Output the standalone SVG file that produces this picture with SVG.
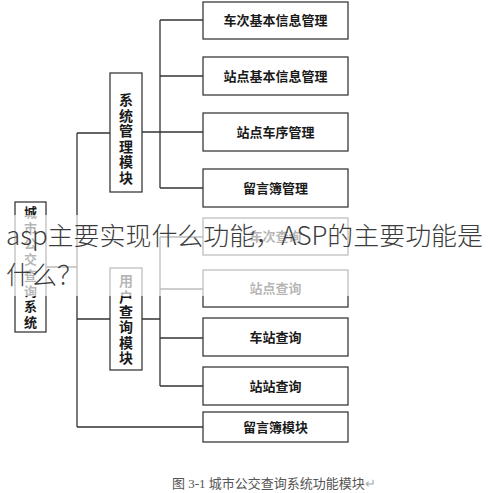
<svg xmlns="http://www.w3.org/2000/svg" width="490" height="493" viewBox="0 0 490 493">
<style>
.box{fill:#fff;stroke:#3a3a3a;stroke-width:1.3}
.lbl{font-family:"Noto Sans CJK SC","Noto Sans",sans-serif;font-size:13px;font-weight:bold;fill:#1a1a1a;text-anchor:middle}
.vt{font-family:"Noto Sans CJK SC","Noto Sans",sans-serif;font-size:14px;font-weight:bold;fill:#1a1a1a;text-anchor:middle}
.con path{fill:none;stroke:#333;stroke-width:1.3}
.ov{font-family:"Noto Sans CJK SC","Noto Sans",sans-serif;font-size:25.5px;font-weight:300;fill:#3c3c3c}
.cap{font-family:"Liberation Serif","Noto Sans CJK SC",serif;font-size:13px;fill:#555}
</style>
<rect width="490" height="493" fill="#fff"/>
<g class="con">
<path d="M46,267H77M77,133V427M77,133H110M77,319H110M77,427H203"/>
<path d="M142,132H160M160,20V188M160,20H203M160,76H203M160,132H203M160,188H203"/>
<path d="M142,319H160M160,237V386M160,237H203M160,289H203M160,338H203M160,386H203"/>
</g>
<g id="root">
<rect class="box" x="15" y="202" width="31" height="130"/>
<text class="vt" style="font-size:13px"><tspan x="30.5" y="217">城</tspan><tspan x="30.5" y="232.7">市</tspan><tspan x="30.5" y="248.4">公</tspan><tspan x="30.5" y="264.1">交</tspan><tspan x="30.5" y="279.8">查</tspan><tspan x="30.5" y="295.5">询</tspan><tspan x="30.5" y="311.2">系</tspan><tspan x="30.5" y="327">统</tspan></text>
</g>
<g id="sys">
<rect class="box" x="110" y="73" width="32" height="119"/>
<text class="vt"><tspan x="126" y="105.3">系</tspan><tspan x="126" y="120.8">统</tspan><tspan x="126" y="136.3">管</tspan><tspan x="126" y="151.8">理</tspan><tspan x="126" y="167.3">模</tspan><tspan x="126" y="182.8">块</tspan></text>
</g>
<g id="user">
<rect class="box" x="110" y="268" width="32" height="102"/>
<text class="vt"><tspan x="126" y="286.3">用</tspan><tspan x="126" y="301.6">户</tspan><tspan x="126" y="316.9">查</tspan><tspan x="126" y="332.2">询</tspan><tspan x="126" y="347.5">模</tspan><tspan x="126" y="362.8">块</tspan></text>
</g>
<g id="n1"><rect class="box" x="203" y="2" width="145" height="37"/><text class="lbl" x="275.5" y="25.3">车次基本信息管理</text></g>
<g id="n2"><rect class="box" x="203" y="57" width="145" height="38"/><text class="lbl" x="275.5" y="80.9">站点基本信息管理</text></g>
<g id="n3"><rect class="box" x="203" y="113" width="145" height="38"/><text class="lbl" x="275.5" y="136.9">站点车序管理</text></g>
<g id="n4"><rect class="box" x="203" y="169" width="145" height="38"/><text class="lbl" x="275.5" y="192.9">留言簿管理</text></g>
<g id="n5"><rect class="box" x="203" y="218" width="145" height="37"/><text class="lbl" x="275.5" y="241.4">车次查询</text></g>
<g id="n6"><rect class="box" x="203" y="270" width="145" height="37"/><text class="lbl" x="275.5" y="293.4">站点查询</text></g>
<g id="n7"><rect class="box" x="203" y="318" width="145" height="38"/><text class="lbl" x="275.5" y="341.9">车站查询</text></g>
<g id="n8"><rect class="box" x="203" y="367" width="145" height="38"/><text class="lbl" x="275.5" y="390.9">站站查询</text></g>
<g id="n9"><rect class="box" x="203" y="412" width="145" height="30"/><text class="lbl" x="275.5" y="431.9">留言簿模块</text></g>
<rect x="0" y="215" width="490" height="81" fill="#fff" fill-opacity="0.68"/>
<text class="ov" x="6" y="245" textLength="477" lengthAdjust="spacingAndGlyphs">asp主要实现什么功能，ASP的主要功能是</text>
<text class="ov" x="6" y="284">什么？</text>
<text class="cap" x="172" y="488">图 3-1 城市公交查询系统功能模块<tspan fill="#aaa">↵</tspan></text>
</svg>
